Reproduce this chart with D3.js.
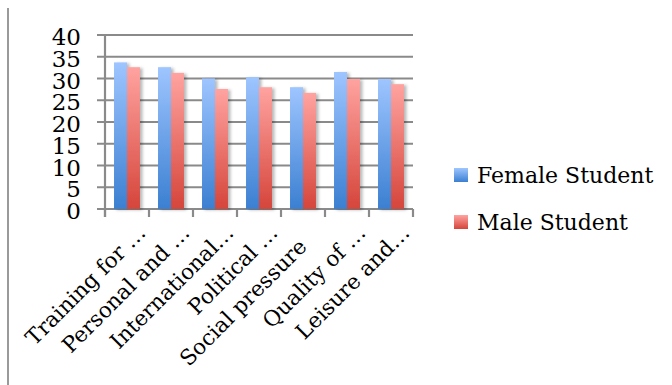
<!DOCTYPE html>
<html>
<head>
<meta charset="utf-8">
<script src="https://cdn.jsdelivr.net/npm/d3@7"></script>
<style>
  html, body { margin: 0; padding: 0; background: #fff; }
  svg { display: block; }
  text { font-family: "DejaVu Serif", serif; fill: #000; }
</style>
</head>
<body>
<svg id="chart" width="672" height="385"></svg>
<script>
const categories = ["Training for …", "Personal and …", "International…", "Political …", "Social pressure", "Quality of …", "Leisure and…"];
const seriesNames = ["Female Student", "Male Student"];
const femaleValues = [33.7, 32.6, 30.0, 30.3, 28.0, 31.5, 29.9];
const maleValues = [32.6, 31.3, 27.6, 28.0, 26.7, 29.9, 28.7];
const yTicks = [0, 5, 10, 15, 20, 25, 30, 35, 40];

const svg = d3.select("#chart");
const plotLeft = 105, plotRight = 413, plotTop = 35, plotBottom = 209;

const x0 = d3.scaleBand().domain(categories).range([plotLeft, plotRight]).padding(0);
const x1 = d3.scaleBand().domain(seriesNames)
  .range([x0.bandwidth() * 0.205, x0.bandwidth() * 0.795]).padding(0);
const y = d3.scaleLinear().domain([0, 40]).range([plotBottom, plotTop]);

const defs = svg.append("defs");
const grads = [
  { id: "gF", top: "#9ec5ff", bottom: "#3b7fd1" },
  { id: "gM", top: "#ffa3a0", bottom: "#d5453b" }
];
grads.forEach(g => {
  const lg = defs.append("linearGradient").attr("id", g.id)
    .attr("x1", 0).attr("y1", 0).attr("x2", 0).attr("y2", 1);
  lg.append("stop").attr("offset", "0%").attr("stop-color", g.top);
  lg.append("stop").attr("offset", "100%").attr("stop-color", g.bottom);
});
const f = defs.append("filter").attr("id", "shadow")
  .attr("x", "-20%").attr("y", "-5%").attr("width", "160%").attr("height", "115%");
f.append("feDropShadow").attr("dx", 2.5).attr("dy", 1).attr("stdDeviation", 1.6)
  .attr("flood-color", "#000").attr("flood-opacity", 0.28);

// left frame line
svg.append("line").attr("x1", 8).attr("x2", 8).attr("y1", 8).attr("y2", 385)
  .attr("stroke", "#9a9a9a").attr("stroke-width", 2);

// gridlines (extend left as tick marks)
svg.append("g").selectAll("line").data(yTicks).join("line")
  .attr("x1", plotLeft - 8).attr("x2", plotRight)
  .attr("y1", d => y(d)).attr("y2", d => y(d))
  .attr("stroke", "#8a8a8a").attr("stroke-width", 2.2);

// y axis line
svg.append("line").attr("x1", plotLeft).attr("x2", plotLeft)
  .attr("y1", y(40)).attr("y2", plotBottom + 8)
  .attr("stroke", "#8a8a8a").attr("stroke-width", 2.2);

// x tick marks at category boundaries
const bounds = categories.map(c => x0(c)).concat([plotRight]);
svg.append("g").selectAll("line").data(bounds).join("line")
  .attr("x1", d => d).attr("x2", d => d)
  .attr("y1", plotBottom).attr("y2", plotBottom + 8)
  .attr("stroke", "#8a8a8a").attr("stroke-width", 2.2);

// y tick labels
svg.append("g").selectAll("text").data(yTicks).join("text")
  .attr("x", 81).attr("y", d => y(d) + 10)
  .attr("text-anchor", "end").attr("font-size", 23)
  .text(d => d);

// bars
const rows = categories.map((c, i) => ({ cat: c, vals: [femaleValues[i], maleValues[i]] }));
const groups = svg.append("g").selectAll("g").data(rows).join("g")
  .attr("transform", d => `translate(${x0(d.cat)},0)`);
groups.selectAll("rect").data(d => d.vals.map((v, j) => ({ name: seriesNames[j], v, j })))
  .join("rect")
  .attr("x", d => x1(d.name))
  .attr("width", x1.bandwidth())
  .attr("y", d => y(d.v))
  .attr("height", d => plotBottom - y(d.v))
  .attr("fill", d => d.j === 0 ? "url(#gF)" : "url(#gM)")
  .attr("filter", "url(#shadow)");

// category labels, rotated
svg.append("g").selectAll("text").data(categories).join("text")
  .attr("font-size", 21.5)
  .attr("text-anchor", "end")
  .attr("transform", d => {
    const c = x0(d) + x0.bandwidth() / 2;
    const truncated = d.endsWith("…");
    const ax = truncated ? c + 20 : c + 5;
    const ay = truncated ? 234 : 248;
    return `translate(${ax},${ay}) rotate(-45)`;
  })
  .text(d => d);

// legend
const legend = svg.append("g");
seriesNames.forEach((n, i) => {
  const yy = 168 + i * 47;
  legend.append("rect").attr("x", 454).attr("y", yy).attr("width", 14).attr("height", 14)
    .attr("fill", i === 0 ? "url(#gF)" : "url(#gM)");
  legend.append("text").attr("x", 477).attr("y", yy + 15).attr("font-size", 22).text(n);
});
</script>
</body>
</html>
